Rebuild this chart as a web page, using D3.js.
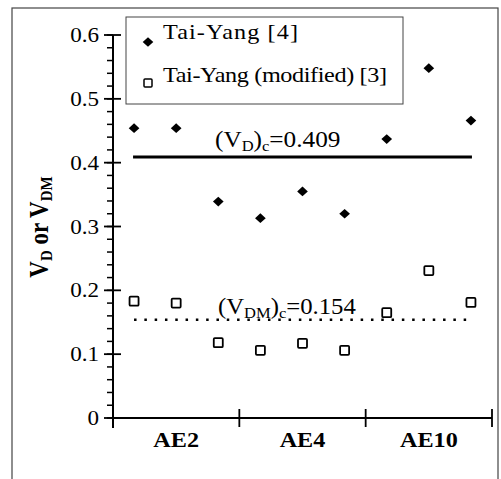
<!DOCTYPE html>
<html>
<head>
<meta charset="utf-8">
<script src="https://cdn.jsdelivr.net/npm/d3@7"></script>
<style>
  body { margin: 0; background: #fff; }
  svg { display: block; }
  text { font-family: "Liberation Serif", "Times New Roman", serif; fill: #000; }
</style>
</head>
<body>
<svg id="chart" width="501" height="479"></svg>
<script>
const categories = ["AE2", "AE4", "AE10"];
const taiYang = [0.454, 0.454, 0.339, 0.313, 0.355, 0.320, 0.437, 0.548, 0.466];
const taiYangMod = [0.183, 0.180, 0.118, 0.106, 0.117, 0.106, 0.165, 0.231, 0.181];
const yTicks = [0, 0.1, 0.2, 0.3, 0.4, 0.5, 0.6];
const yTickLabels = ["0", "0.1", "0.2", "0.3", "0.4", "0.5", "0.6"];
const critD = 0.409;
const critDM = 0.154;
const SX = 1.1; // scanned text looks a bit wider than tall

const svg = d3.select("#chart");

const x = d3.scaleBand().domain(categories).range([113, 492]).padding(0);
const y = d3.scaleLinear().domain([0, 0.6]).range([418, 35]);

// 3 samples per category, evenly spaced inside the band
function px(i) {
  const cat = categories[Math.floor(i / 3)];
  return x(cat) + ((i % 3) + 0.5) * x.bandwidth() / 3;
}

function label(parent, tx, ty, anchor, size, weight) {
  const g = parent.append("g").attr("transform", `translate(${tx},${ty}) scale(${SX},1)`);
  return g.append("text")
    .attr("text-anchor", anchor)
    .style("font-size", size + "px")
    .style("font-weight", weight || "normal");
}

// outer frame
svg.append("rect")
  .attr("x", 12).attr("y", 8).attr("width", 486).attr("height", 480)
  .attr("fill", "none").attr("stroke", "#444").attr("stroke-width", 1.2);

// y axis
svg.append("line")
  .attr("x1", 113).attr("x2", 113).attr("y1", y(0.6)).attr("y2", y(0) + 10)
  .attr("stroke", "#000").attr("stroke-width", 2);

svg.append("g").selectAll("line")
  .data(d3.range(0, 31).map(d => d * 0.02))
  .join("line")
  .attr("x1", 107).attr("x2", 113)
  .attr("y1", d => y(d)).attr("y2", d => y(d))
  .attr("stroke", "#000").attr("stroke-width", 1.5);

svg.append("g").selectAll("line")
  .data(yTicks)
  .join("line")
  .attr("x1", 104).attr("x2", 121)
  .attr("y1", d => y(d)).attr("y2", d => y(d))
  .attr("stroke", "#000").attr("stroke-width", 1.8);

yTicks.forEach((v, i) => {
  label(svg, 99, y(v) + 7, "end", 21).text(yTickLabels[i]);
});

// x axis
svg.append("line")
  .attr("x1", 113).attr("x2", 492).attr("y1", y(0)).attr("y2", y(0))
  .attr("stroke", "#000").attr("stroke-width", 2);

svg.append("g").selectAll("line")
  .data(categories)
  .join("line")
  .attr("x1", d => x(d) + x.bandwidth()).attr("x2", d => x(d) + x.bandwidth())
  .attr("y1", y(0) - 9).attr("y2", y(0) + 9)
  .attr("stroke", "#000").attr("stroke-width", 1.8);

categories.forEach(c => {
  label(svg, x(c) + x.bandwidth() / 2, 447, "middle", 22, "bold").text(c);
});

// y title
const yt = svg.append("g").attr("transform", "translate(48,227) rotate(-90) scale(1,1.15)")
  .append("text").attr("text-anchor", "middle")
  .style("font-size", "23px").style("font-weight", "bold");
yt.append("tspan").text("V");
yt.append("tspan").attr("baseline-shift", "-25%").style("font-size", "15px").text("D");
yt.append("tspan").text(" or V");
yt.append("tspan").attr("baseline-shift", "-25%").style("font-size", "15px").text("DM");

// critical lines
svg.append("line")
  .attr("x1", px(0) - 1).attr("x2", px(8) + 1)
  .attr("y1", y(critD)).attr("y2", y(critD))
  .attr("stroke", "#000").attr("stroke-width", 3);

svg.append("line")
  .attr("x1", px(0)).attr("x2", px(8) - 3)
  .attr("y1", y(critDM)).attr("y2", y(critDM))
  .attr("stroke", "#000").attr("stroke-width", 2.5)
  .attr("stroke-dasharray", "2.5,7.8");

const tD = label(svg, 215, y(critD) - 10, "start", 23);
tD.append("tspan").text("(V");
tD.append("tspan").attr("baseline-shift", "-25%").style("font-size", "15px").text("D");
tD.append("tspan").text(")");
tD.append("tspan").attr("baseline-shift", "-25%").style("font-size", "15px").text("c");
tD.append("tspan").text("=" + critD.toFixed(3));

const tDM = label(svg, 218, y(critDM) - 6, "start", 22.5);
tDM.append("tspan").text("(V");
tDM.append("tspan").attr("baseline-shift", "-25%").style("font-size", "15px").text("DM");
tDM.append("tspan").text(")");
tDM.append("tspan").attr("baseline-shift", "-25%").style("font-size", "15px").text("c");
tDM.append("tspan").text("=" + critDM.toFixed(3));

// markers
const diamond = d3.symbol().type(d3.symbolDiamond2).size(60);

svg.append("g").selectAll("path")
  .data(taiYang)
  .join("path")
  .attr("d", diamond)
  .attr("transform", (d, i) => `translate(${px(i)},${y(d)}) scale(1.1,1)`)
  .attr("fill", "#000");

svg.append("g").selectAll("rect")
  .data(taiYangMod)
  .join("rect")
  .attr("x", (d, i) => px(i) - 4.5).attr("y", d => y(d) - 4.5)
  .attr("width", 9).attr("height", 9).attr("rx", 1)
  .attr("fill", "#fff").attr("stroke", "#000").attr("stroke-width", 1.8);

// legend
const lg = svg.append("g");
lg.append("rect")
  .attr("x", 126).attr("y", 17).attr("width", 277).attr("height", 87)
  .attr("fill", "#fff").attr("stroke", "#444").attr("stroke-width", 1);
lg.append("path").attr("d", diamond)
  .attr("transform", "translate(148,42) scale(1.1,1)").attr("fill", "#000");
label(lg, 163, 39, "start", 22)
  .attr("textLength", 135 / SX).attr("lengthAdjust", "spacing")
  .text("Tai-Yang [4]");
lg.append("rect")
  .attr("x", 144).attr("y", 79).attr("width", 8).attr("height", 8).attr("rx", 1)
  .attr("fill", "#fff").attr("stroke", "#000").attr("stroke-width", 1.5);
label(lg, 163, 82, "start", 22)
  .attr("textLength", 224 / SX).attr("lengthAdjust", "spacing")
  .text("Tai-Yang (modified) [3]");
</script>
</body>
</html>
